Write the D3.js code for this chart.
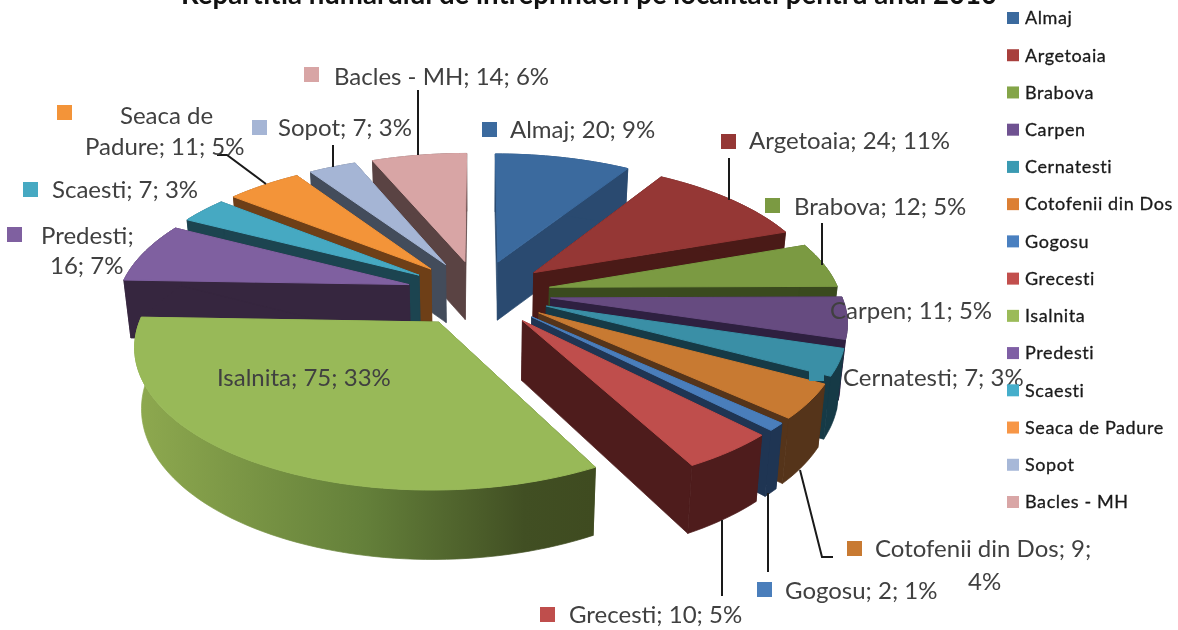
<!DOCTYPE html>
<html>
<head>
<meta charset="utf-8">
<style>
  html, body { margin: 0; padding: 0; background: #fff; }
  svg { display: block; filter: blur(0.5px); }
  text { font-family: Lato, "Open Sans", sans-serif; }
</style>
<script src="https://cdn.jsdelivr.net/npm/d3@7/dist/d3.min.js"></script>
</head>
<body>
<div id="chart"></div>
<script>
// data
var titleText = "Repartitia numarului de intreprinderi pe localitati pentru anul 2010";
var categories = ["Almaj", "Argetoaia", "Brabova", "Carpen", "Cernatesti", "Cotofenii din Dos", "Gogosu",
  "Grecesti", "Isalnita", "Predesti", "Scaesti", "Seaca de Padure", "Sopot", "Bacles - MH"];
var values = [20, 24, 12, 11, 7, 9, 2, 10, 75, 16, 7, 11, 7, 14];
var percents = [9, 11, 5, 5, 3, 4, 1, 5, 33, 7, 3, 5, 3, 6];

// colours
var topColors = ["#3b6a9e", "#953735", "#7b9a42", "#664b80", "#3a8fa6", "#c87a32", "#4a7ebb",
  "#bf4e4c", "#98b958", "#7f60a0", "#46a9c2", "#f39439", "#a5b5d5", "#d8a5a5"];
var sideColors = ["#2a4a70", "#4a1a17", "#3a4a1e", "#2e2040", "#163a46", "#55341a", "#1f3553",
  "#4e1c1c", "url(#isalnitaSide)", "#36263f", "#1c4450", "#6e3f17", "#434c5b", "#5a4343"];
var legendColors = ["#3b6a9e", "#a83f3c", "#84a548", "#6f5291", "#3a9ab2", "#dc7f34", "#4a80c0",
  "#c24f4d", "#9bbb59", "#7f5fa5", "#45aecb", "#f79646", "#a7b8d8", "#d9a6a6"];

// label placement: key square corner, then one start x and centre y per text line
var labelLayout = [
  {key: [482, 122], x: [510], y: [130]},
  {key: [721, 134], x: [749], y: [141]},
  {key: [765, 198], x: [794], y: [207]},
  {key: [815, 303], x: [830], y: [311]},
  {key: [809, 366], x: [843], y: [378]},
  {key: [847, 541], x: [875, 968], y: [549, 582], wrap: "Cotofenii din Dos; 9;"},
  {key: [757, 582], x: [785], y: [591]},
  {key: [540, 607], x: [569], y: [615]},
  {key: [190, 371], x: [217], y: [378]},
  {key: [7, 227], x: [41, 50], y: [236, 266], wrap: "Predesti;"},
  {key: [23, 182], x: [52], y: [190]},
  {key: [57, 105], x: [120, 85], y: [116, 147], wrap: "Seaca de"},
  {key: [252, 120], x: [278], y: [128]},
  {key: [304, 67], x: [334], y: [77]}
];
var leaders = [
  [[418, 90], [418, 155]],
  [[333, 145], [333, 167]],
  [[217, 155], [227, 155], [266, 184]],
  [[729, 158], [729, 200]],
  [[822, 223], [822, 265]],
  [[722, 520], [722, 596]],
  [[768, 493], [768, 572]],
  [[800, 470], [822, 557], [833, 557]]
];

var width = 1178, height = 630;

// pie plane seen in perspective
var cx = 478.5, cy = 293, radiusX = 290, radiusY = 133;
var persp = 0.15, explode = 0.25, depth = 58;

function project(u, v, low) {
  var s = 1 / (1 - persp * v);
  var x = cx + radiusX * u * s;
  var y = cy + radiusY * v * s;
  if (low) {
    x = cx + (x - cx) * 0.98;
    y = y + depth * Math.max(1, Math.pow(s, 0.9));
  }
  return [x, y];
}

var svg = d3.select("#chart").append("svg")
  .attr("width", width)
  .attr("height", height)
  .attr("viewBox", "0 0 " + width + " " + height);

var defs = svg.append("defs");
var grad = defs.append("linearGradient")
  .attr("id", "isalnitaSide")
  .attr("gradientUnits", "userSpaceOnUse")
  .attr("x1", 136).attr("x2", 593).attr("y1", 0).attr("y2", 0);
[[0, "#8ea94f"], [0.5, "#64803a"], [0.85, "#414f23"], [1, "#3f4b20"]].forEach(function(d) {
  grad.append("stop").attr("offset", d[0]).attr("stop-color", d[1]);
});

var pie = d3.pie().sort(null).value(function(d) { return d; });
var arcs = pie(values).map(function(d, i) {
  var mid = (d.startAngle + d.endAngle) / 2;
  return {
    index: i,
    start: d.startAngle,
    end: d.endAngle,
    mid: mid,
    ou: explode * Math.sin(mid),
    ov: -explode * Math.cos(mid)
  };
});

// far slices first so the near ones paint over them
arcs.sort(function(a, b) { return d3.descending(Math.cos(a.mid), Math.cos(b.mid)); });

var path = d3.line().curve(d3.curveLinearClosed);

function rim(a, low) {
  var n = Math.max(2, Math.ceil((a.end - a.start) / 0.03));
  return d3.range(n + 1).map(function(k) {
    var t = a.start + (a.end - a.start) * k / n;
    return project(a.ou + Math.sin(t), a.ov - Math.cos(t), low);
  });
}

var slices = svg.append("g").attr("class", "slices");

arcs.forEach(function(a) {
  var g = slices.append("g");
  var fill = sideColors[a.index];
  var apexTop = project(a.ou, a.ov, false);
  var apexLow = project(a.ou, a.ov, true);
  var rimTop = rim(a, false);
  var rimLow = rim(a, true);
  var lastTop = rimTop[rimTop.length - 1], lastLow = rimLow[rimLow.length - 1];

  // radial walls, then rim wall, then top. thin stroke hides the seams
  [[apexTop, rimTop[0], rimLow[0], apexLow],
   [apexTop, lastTop, lastLow, apexLow],
   rimTop.concat(rimLow.slice().reverse())].forEach(function(wall) {
    g.append("path")
      .attr("fill", fill)
      .attr("stroke", fill)
      .attr("stroke-width", 0.7)
      .attr("d", path(wall));
  });
  g.append("path")
    .attr("fill", topColors[a.index])
    .attr("stroke", topColors[a.index])
    .attr("stroke-width", 1)
    .attr("d", path([apexTop].concat(rimTop)));
});

// leader lines
var leaderLine = d3.line();
svg.append("g").selectAll("path")
  .data(leaders)
  .enter().append("path")
  .attr("d", leaderLine)
  .attr("fill", "none")
  .attr("stroke", "#1a1a1a")
  .attr("stroke-width", 2);

// data labels
var labels = svg.append("g").selectAll("g")
  .data(categories)
  .enter().append("g");

labels.append("rect")
  .attr("x", function(d, i) { return labelLayout[i].key[0]; })
  .attr("y", function(d, i) { return labelLayout[i].key[1]; })
  .attr("width", 15)
  .attr("height", 15)
  .attr("fill", function(d, i) { return topColors[i]; });

labels.each(function(d, i) {
  var lay = labelLayout[i];
  var full = d + "; " + values[i] + "; " + percents[i] + "%";
  var lines = lay.wrap ? [lay.wrap, full.slice(lay.wrap.length + 1)] : [full];
  d3.select(this).selectAll("text")
    .data(lines)
    .enter().append("text")
    .attr("x", function(l, k) { return lay.x[k]; })
    .attr("y", function(l, k) { return lay.y[k]; })
    .attr("dy", "0.35em")
    .attr("font-size", 24)
    .attr("fill", "#404040")
    .text(function(l) { return l; });
});

// title, cut by the top edge as in the source
svg.append("text")
  .attr("x", 589)
  .attr("y", 4)
  .attr("text-anchor", "middle")
  .attr("font-size", 27.6)
  .attr("font-weight", 700)
  .attr("fill", "#111")
  .text(titleText);

// legend
var legendY = d3.scalePoint()
  .domain(categories)
  .range([18, 502]);

var legend = svg.append("g").selectAll("g")
  .data(categories)
  .enter().append("g")
  .attr("transform", function(d) { return "translate(1007," + legendY(d) + ")"; });

legend.append("rect")
  .attr("y", -6)
  .attr("width", 12)
  .attr("height", 12)
  .attr("fill", function(d, i) { return legendColors[i]; });

legend.append("text")
  .attr("x", 18)
  .attr("dy", "0.35em")
  .attr("font-size", 18)
  .attr("letter-spacing", 0.6)
  .attr("fill", "#1a1a1a")
  .attr("stroke", "#1a1a1a")
  .attr("stroke-width", 0.3)
  .text(function(d) { return d; });
</script>
</body>
</html>
